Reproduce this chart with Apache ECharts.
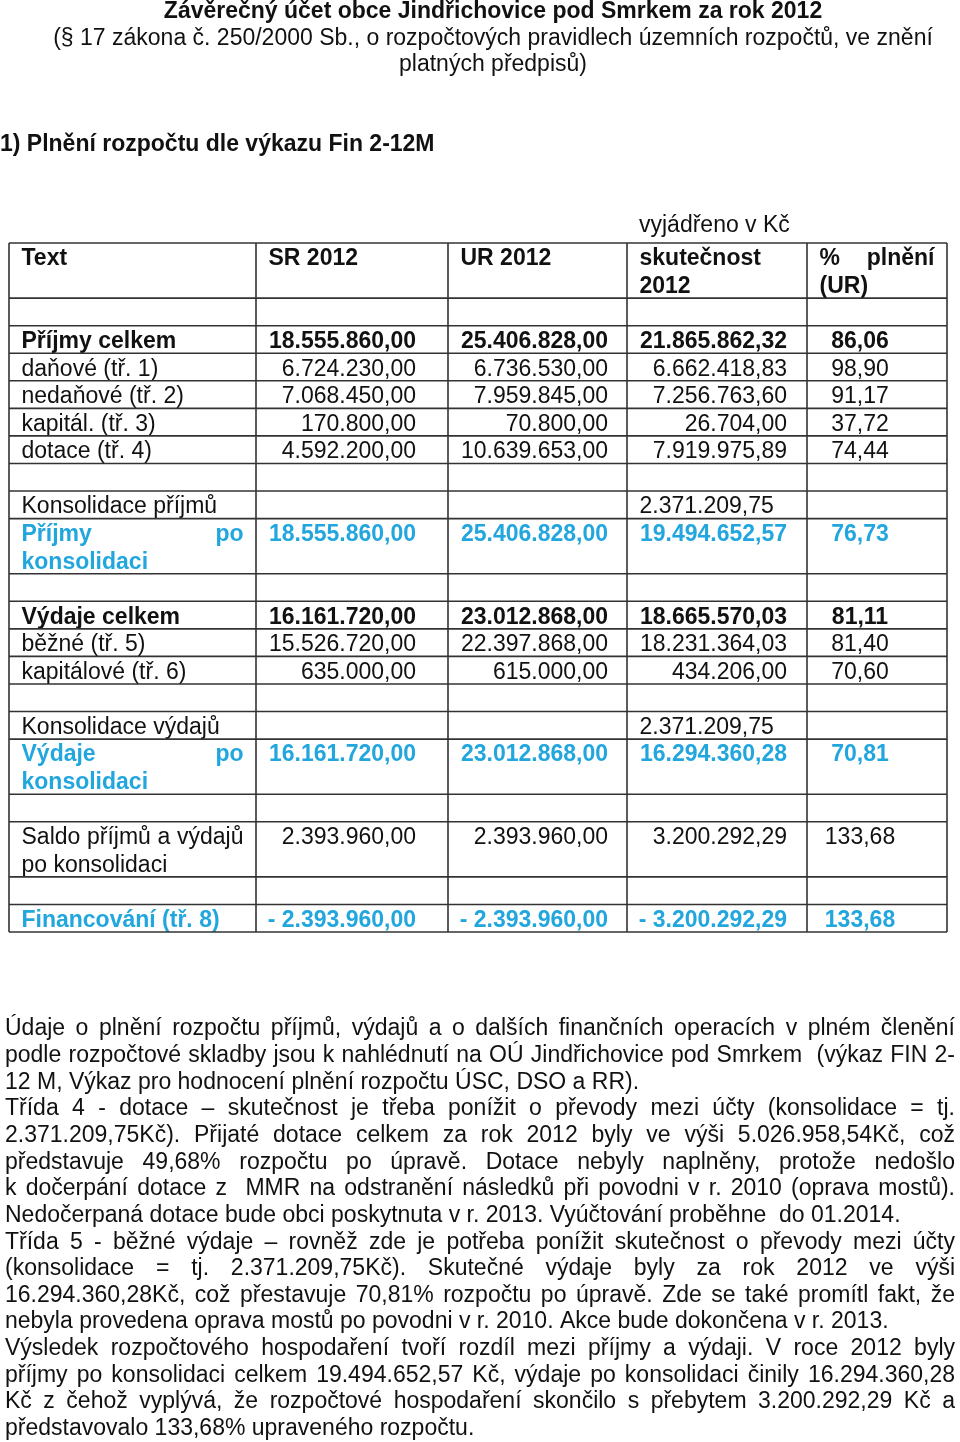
<!DOCTYPE html>
<html>
<head>
<meta charset="utf-8">
<title>Závěrečný účet obce Jindřichovice pod Smrkem za rok 2012</title>
<script src="https://cdn.jsdelivr.net/npm/echarts@6/dist/echarts.min.js"></script>
<style>
  html, body { margin: 0; padding: 0; background: #fff; }
  #report { width: 960px; height: 1442px; }
</style>
</head>
<body>
<div id="report"></div>
<script>
// --- texty nad tabulkou ---
const titleLines = [
  'Závěrečný účet obce Jindřichovice pod Smrkem za rok 2012',
  '(§ 17 zákona č. 250/2000 Sb., o rozpočtových pravidlech územních rozpočtů, ve znění',
  'platných předpisů)'
];
const sectionTitle = '1) Plnění rozpočtu dle výkazu Fin 2-12M';
const unitNote = 'vyjádřeno v Kč';

// --- tabulka ---
const colHeads = ['Text', 'SR 2012', 'UR 2012', 'skutečnost 2012', '% plnění (UR)'];
const rowLabels = [
  'Příjmy celkem', 'daňové (tř. 1)', 'nedaňové (tř. 2)', 'kapitál. (tř. 3)', 'dotace (tř. 4)',
  'Konsolidace příjmů', 'Příjmy po konsolidaci',
  'Výdaje celkem', 'běžné (tř. 5)', 'kapitálové (tř. 6)',
  'Konsolidace výdajů', 'Výdaje po konsolidaci',
  'Saldo příjmů a výdajů po konsolidaci', 'Financování (tř. 8)'
];
const srValues = [18555860.00, 6724230.00, 7068450.00, 170800.00, 4592200.00,
  null, 18555860.00, 16161720.00, 15526720.00, 635000.00,
  null, 16161720.00, 2393960.00, -2393960.00];
const urValues = [25406828.00, 6736530.00, 7959845.00, 70800.00, 10639653.00,
  null, 25406828.00, 23012868.00, 22397868.00, 615000.00,
  null, 23012868.00, 2393960.00, -2393960.00];
const actualValues = [21865862.32, 6662418.83, 7256763.60, 26704.00, 7919975.89,
  2371209.75, 19494652.57, 18665570.03, 18231364.03, 434206.00,
  2371209.75, 16294360.28, 3200292.29, -3200292.29];
const pctValues = [86.06, 98.90, 91.17, 37.72, 74.44,
  null, 76.73, 81.11, 81.40, 70.60,
  null, 70.81, 133.68, 133.68];

// --- komentář pod tabulkou (po řádcích) ---
const noteLines = [
  'Údaje o plnění rozpočtu příjmů, výdajů a o dalších finančních operacích v plném členění',
  'podle rozpočtové skladby jsou k nahlédnutí na OÚ Jindřichovice pod Smrkem  (výkaz FIN 2-',
  '12 M, Výkaz pro hodnocení plnění rozpočtu ÚSC, DSO a RR).',
  'Třída 4 - dotace – skutečnost je třeba ponížit o převody mezi účty (konsolidace = tj.',
  '2.371.209,75Kč). Přijaté dotace celkem za rok 2012 byly ve výši 5.026.958,54Kč, což',
  'představuje 49,68% rozpočtu po úpravě. Dotace nebyly naplněny, protože nedošlo',
  'k dočerpání dotace z  MMR na odstranění následků při povodni v r. 2010 (oprava mostů).',
  'Nedočerpaná dotace bude obci poskytnuta v r. 2013. Vyúčtování proběhne  do 01.2014.',
  'Třída 5 - běžné výdaje – rovněž zde je potřeba ponížit skutečnost o převody mezi účty',
  '(konsolidace = tj. 2.371.209,75Kč). Skutečné výdaje byly za rok 2012 ve výši',
  '16.294.360,28Kč, což přestavuje 70,81% rozpočtu po úpravě. Zde se také promítl fakt, že',
  'nebyla provedena oprava mostů po povodni v r. 2010. Akce bude dokončena v r. 2013.',
  'Výsledek rozpočtového hospodaření tvoří rozdíl mezi příjmy a výdaji. V roce 2012 byly',
  'příjmy po konsolidaci celkem 19.494.652,57 Kč, výdaje po konsolidaci činily 16.294.360,28',
  'Kč z čehož vyplývá, že rozpočtové hospodaření skončilo s přebytem 3.200.292,29 Kč a',
  'představovalo 133,68% upraveného rozpočtu.'
];

// --- rozložení a styly ---
const FAMILY = '"Liberation Sans", Arial, Helvetica, sans-serif';
const SIZE = 23;
const BLACK = '#111111';
const BLUE = '#22a6de';
const GRID = '#333333';
const TEXT_DY = 2;   // opticky posun textu dolu

const colEdges = [9, 256, 448, 627, 807, 947];
const tableTop = 243;
const lineH = 27.56;
const pad = 12.5;
const numRight = [416, 608, 787];   // tabulátory pro SR, UR, skutečnost
const pctCenter = 860;
const gapBefore = [1, 0, 0, 0, 0, 1, 0, 1, 0, 0, 1, 0, 1, 1];
const rowStyle = ['bold', 'plain', 'plain', 'plain', 'plain', 'cons', 'blue',
  'bold', 'plain', 'plain', 'cons', 'blue', 'plain', 'blue'];
const noteJustify = [1, 1, 0, 1, 1, 1, 1, 0, 1, 1, 1, 0, 1, 1, 1, 0];

const measureCtx = document.createElement('canvas').getContext('2d');
function fontOf(bold) {
  return (bold ? 'bold ' : '') + SIZE + 'px ' + FAMILY;
}
function textWidth(str, bold) {
  measureCtx.font = fontOf(bold);
  return measureCtx.measureText(str).width;
}

// česky: tisíce tečkou, desetiny čárkou, záporné "- "
function fmt(v) {
  if (v === null || v === undefined) return '';
  const parts = Math.abs(v).toFixed(2).split('.');
  const intPart = parts[0].replace(/\B(?=(\d{3})+(?!\d))/g, '.');
  return (v < 0 ? '- ' : '') + intPart + ',' + parts[1];
}

const elements = [];

function addText(str, x, y, bold, fill, align) {
  if (!str) return;
  elements.push({
    type: 'text',
    x: x,
    y: y + TEXT_DY,
    silent: true,
    style: {
      text: str,
      font: fontOf(bold),
      fill: fill,
      align: align || 'left',
      verticalAlign: 'middle',
      textAlign: align || 'left',
      textVerticalAlign: 'middle'
    }
  });
}

function addLine(x1, y1, x2, y2) {
  elements.push({
    type: 'line',
    silent: true,
    shape: { x1: x1, y1: y1, x2: x2, y2: y2 },
    style: { stroke: GRID, lineWidth: 1.6 }
  });
}

// jeden řádek textu, případně zarovnaný do bloku
function placeLine(str, x0, x1, y, bold, fill, justify) {
  const words = str.split(' ');
  if (!justify || words.length < 2) {
    addText(str, x0, y, bold, fill, 'left');
    return;
  }
  let total = 0;
  words.forEach(w => { total += textWidth(w, bold); });
  const gap = (x1 - x0 - total) / (words.length - 1);
  let x = x0;
  words.forEach(w => {
    addText(w, x, y, bold, fill, 'left');
    x += textWidth(w, bold) + gap;
  });
}

function wrap(str, maxW, bold) {
  const words = str.split(' ');
  const lines = [];
  let cur = '';
  words.forEach(w => {
    const test = cur ? cur + ' ' + w : w;
    if (cur && textWidth(test, bold) > maxW) {
      lines.push(cur);
      cur = w;
    } else {
      cur = test;
    }
  });
  if (cur) lines.push(cur);
  return lines;
}

function placeCellText(str, col, top, bold, fill) {
  const x0 = colEdges[col] + pad;
  const x1 = colEdges[col + 1] - pad;
  const lines = wrap(str, x1 - x0, bold);
  lines.forEach((ln, k) => {
    placeLine(ln, x0, x1, top + 14 + k * lineH, bold, fill, k < lines.length - 1);
  });
  return lines.length;
}

// nadpisy
addText(titleLines[0], 493, 10, true, BLACK, 'center');
addText(titleLines[1], 493, 37, false, BLACK, 'center');
addText(titleLines[2], 493, 63, false, BLACK, 'center');
addText(sectionTitle, 0, 143, true, BLACK, 'left');
addText(unitNote, 639, 224, false, BLACK, 'left');

// tabulka
const rowEdges = [tableTop];
let y = tableTop;
let headLines = 1;
colHeads.forEach((h, c) => {
  headLines = Math.max(headLines, placeCellText(h, c, y, true, BLACK));
});
y += headLines * lineH;
rowEdges.push(y);

rowLabels.forEach((label, i) => {
  if (gapBefore[i]) {
    y += lineH;
    rowEdges.push(y);
  }
  const st = rowStyle[i];
  const bold = st === 'bold' || st === 'blue';
  const fill = st === 'blue' ? BLUE : BLACK;
  const n = placeCellText(label, 0, y, bold, fill);
  const cy = y + 14;
  addText(fmt(srValues[i]), numRight[0], cy, bold, fill, 'right');
  addText(fmt(urValues[i]), numRight[1], cy, bold, fill, 'right');
  if (st === 'cons') {
    addText(fmt(actualValues[i]), colEdges[3] + pad, cy, bold, fill, 'left');
  } else {
    addText(fmt(actualValues[i]), numRight[2], cy, bold, fill, 'right');
  }
  addText(fmt(pctValues[i]), pctCenter, cy, bold, fill, 'center');
  y += n * lineH;
  rowEdges.push(y);
});

rowEdges.forEach(ry => addLine(colEdges[0], ry, colEdges[colEdges.length - 1], ry));
colEdges.forEach(cx => addLine(cx, tableTop, cx, y));

// komentář
noteLines.forEach((ln, i) => {
  placeLine(ln, 5, 955, 1027 + i * 26.65, false, BLACK, !!noteJustify[i]);
});

const chart = echarts.init(document.getElementById('report'), null, { renderer: 'canvas' });
chart.setOption({
  animation: false,
  backgroundColor: '#ffffff',
  graphic: { elements: elements }
});
</script>
</body>
</html>
